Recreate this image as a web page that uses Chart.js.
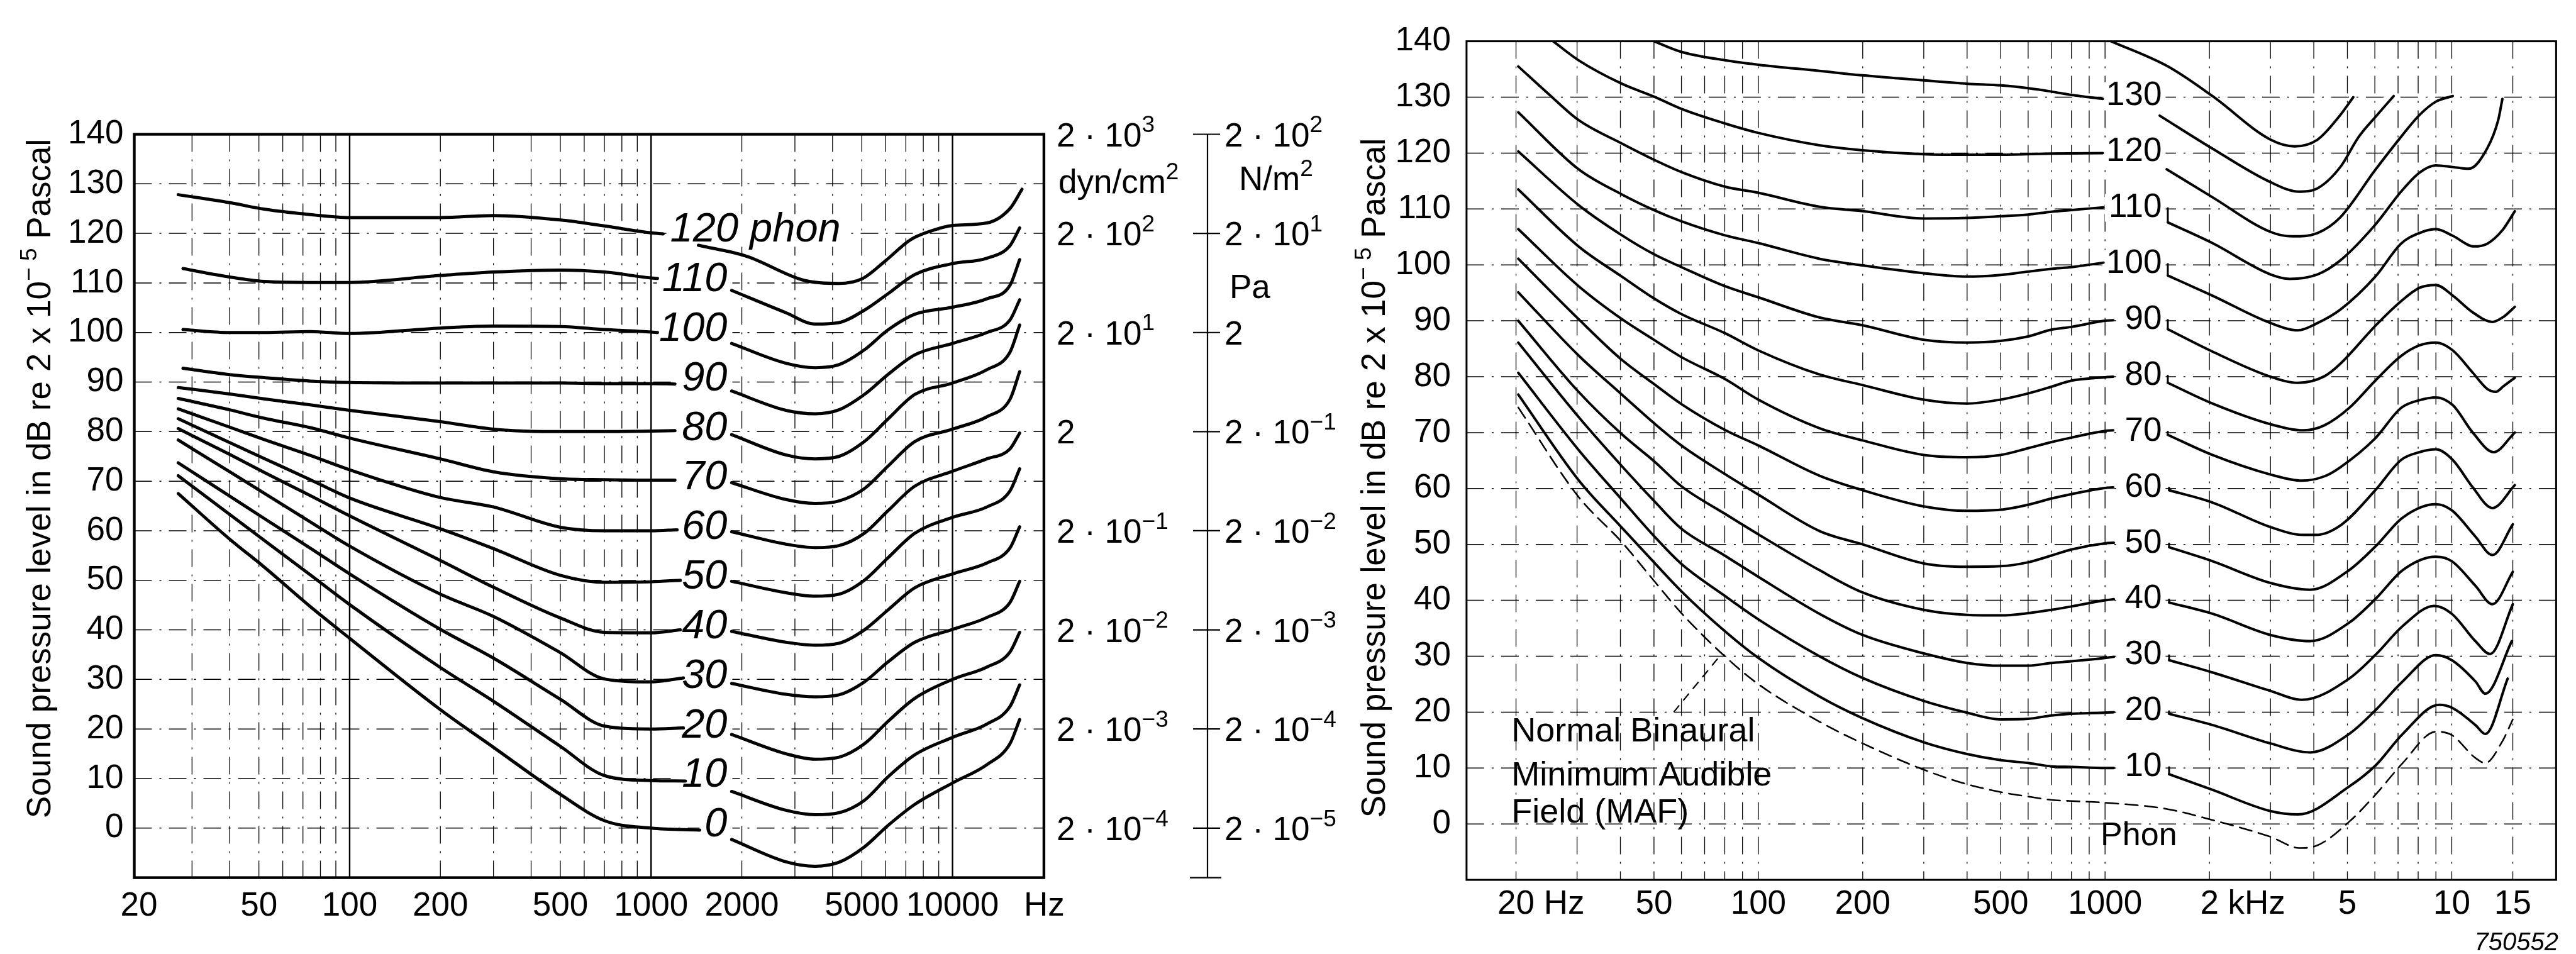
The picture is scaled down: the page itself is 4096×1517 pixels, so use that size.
<!DOCTYPE html>
<html>
<head>
<meta charset="utf-8">
<title>Equal loudness contours</title>
<script src="https://cdn.jsdelivr.net/npm/chart.js@4.4.1/dist/chart.umd.min.js"></script>
<style>
  html, body { margin: 0; padding: 0; background: #ffffff; }
  body { position: relative; width: 4096px; height: 1517px; overflow: hidden; }
  canvas { position: absolute; top: 0; }
  #leftChart { left: 0; }
  #rightChart { left: 2140px; }
</style>
</head>
<body>
<canvas id="leftChart" width="2200" height="1517"></canvas>
<canvas id="rightChart" width="1956" height="1517"></canvas>
<script>
const FONT = '"Liberation Sans", "DejaVu Sans", Arial, sans-serif';
Chart.defaults.font.family = FONT;
Chart.defaults.color = '#000';

// ---------------- data ----------------
const Y_TICKS = [0, 10, 20, 30, 40, 50, 60, 70, 80, 90, 100, 110, 120, 130, 140];
const H_GRID = [0, 10, 20, 30, 40, 50, 60, 70, 80, 90, 100, 110, 120, 130];

// left panel (0 ... 120 phon)
const LEFT_PHON = [0, 10, 20, 30, 40, 50, 60, 70, 80, 90, 100, 110, 120];
const LEFT_X_TICKS = [20, 50, 100, 200, 500, 1000, 2000, 5000, 10000];
const LEFT_X_LABELS = ['20', '50', '100', '200', '500', '1000', '2000', '5000', '10000'];
const LEFT_VGRID = [30, 40, 50, 60, 70, 80, 90, 100, 200, 300, 400, 500, 600, 700, 800, 900,
  1000, 2000, 3000, 4000, 5000, 6000, 7000, 8000, 9000, 10000];
const LEFT_VSOLID = [100, 1000, 10000];

// part below the label (Hz, dB)
const LEFT_LOW = [
  [[27,67.5],[40,58.3],[52,52.7],[74,44.7],[100,38.3],[200,23.9],[300,16.3],[500,6.8],[700,1.5],[1000,0.0],[1450,-0.4]],
  [[27,71.1],[40,63.3],[52,58.1],[74,51.1],[100,45.1],[200,32.4],[300,25.6],[500,16.5],[700,10.6],[1000,9.6],[1300,9.5]],
  [[27,73.7],[40,67.0],[52,62.5],[74,56.5],[100,51.3],[200,40.1],[300,34.3],[500,26.0],[700,20.6],[1000,20.0],[1280,20.2]],
  [[27,78.3],[40,71.9],[52,67.6],[74,61.8],[100,56.9],[200,47.2],[300,42.7],[500,35.4],[700,30.1],[1000,29.5],[1280,30.3]],
  [[27,80.6],[40,75.4],[52,71.8],[74,67.1],[100,63.0],[200,54.0],[300,48.6],[500,42.4],[700,39.5],[1000,39.4],[1250,40.0]],
  [[27,82.6],[40,77.8],[52,74.6],[74,70.3],[100,66.6],[200,60.4],[300,56.4],[500,51.0],[700,49.6],[1000,49.7],[1250,50.0]],
  [[27,84.6],[40,80.9],[52,78.4],[74,75.2],[100,72.3],[200,66.7],[300,64.8],[500,60.7],[700,60.0],[1000,60.0],[1220,60.2]],
  [[27,86.7],[40,84.4],[52,82.7],[74,80.8],[100,78.7],[200,74.5],[300,71.9],[500,70.5],[700,70.3],[1000,70.2],[1200,70.2]],
  [[27,88.9],[40,87.6],[52,86.6],[74,85.4],[100,84.3],[200,82.0],[300,80.5],[500,80.0],[700,80.0],[1000,80.1],[1200,80.2]],
  [[28,92.8],[40,91.5],[52,90.9],[74,90.2],[100,89.9],[200,89.8],[300,89.8],[500,89.8],[700,89.7],[1000,89.7],[1200,89.6]],
  [[28,100.6],[40,100.0],[52,100.0],[74,100.2],[100,99.8],[200,100.9],[300,101.3],[500,101.2],[700,100.6],[1000,100.1],[1050,100.0]],
  [[28,112.9],[40,111.2],[52,110.3],[74,110.1],[100,110.1],[200,111.5],[300,112.2],[500,112.6],[700,112.2],[1000,111.0],[1050,110.9]],
  [[27,127.8],[40,126.2],[52,124.9],[74,123.8],[100,123.2],[200,123.2],[300,123.6],[500,122.7],[700,121.5],[1000,120.1],[1097,119.9]]
];
// part right of the label
const LEFT_HIGH = [
  [[1850,-2.3],[2800,-6.8],[3500,-7.7],[4200,-6.9],[5100,-3.8],[6100,0.5],[7500,4.8],[10000,9.1],[13000,12.8],[15500,17.0],[16700,21.9]],
  [[1850,7.4],[2800,3.6],[3500,2.7],[4200,3.1],[5100,5.6],[6100,10.3],[7500,14.8],[10000,18.3],[13000,21.0],[15500,24.5],[16700,28.9]],
  [[1850,18.9],[2800,15.0],[3500,13.9],[4200,14.3],[5100,17.0],[6100,21.5],[7500,26.2],[10000,30.0],[13000,32.5],[15500,35.5],[16700,39.5]],
  [[1850,29.2],[2800,27.0],[3500,26.5],[4200,26.9],[5100,29.5],[6100,33.5],[7500,37.5],[10000,40.1],[13000,42.5],[15500,45.5],[16700,49.8]],
  [[1850,39.7],[2800,37.5],[3500,36.9],[4200,37.3],[5100,40.0],[6100,44.0],[7500,48.5],[10000,51.3],[13000,53.5],[15500,56.5],[16700,60.8]],
  [[1850,49.8],[2800,47.5],[3500,46.8],[4200,47.2],[5100,50.0],[6100,54.5],[7500,59.5],[10000,62.7],[13000,64.8],[15500,68.0],[16700,72.5]],
  [[1850,59.8],[2800,57.3],[3500,56.6],[4200,57.0],[5100,59.5],[6100,64.0],[7500,69.0],[10000,72.0],[13000,74.5],[15500,76.5],[16700,79.7]],
  [[1850,69.7],[2800,66.3],[3500,65.5],[4200,66.0],[5100,68.5],[6100,73.0],[7500,78.0],[10000,80.5],[13000,83.0],[15500,86.5],[16700,92.1]],
  [[1850,79.4],[2800,75.3],[3500,74.5],[4200,75.0],[5100,78.0],[6100,82.5],[7500,87.5],[10000,89.8],[13000,92.5],[15500,96.0],[16700,101.5]],
  [[1850,88.2],[2800,84.3],[3500,83.6],[4200,84.4],[5100,87.5],[6100,91.5],[7500,95.5],[10000,97.8],[13000,100.0],[15500,102.5],[16700,106.6]],
  [[1850,97.8],[2800,93.8],[3500,92.9],[4200,93.5],[5100,96.5],[6100,100.5],[7500,103.7],[10000,105.1],[13000,106.8],[15500,109.5],[16700,114.7]],
  [[1850,108.5],[2800,104.0],[3500,101.7],[4200,102.0],[5100,104.5],[6100,107.8],[7500,111.7],[10000,113.9],[13000,115.0],[15500,117.5],[16700,121.1]],
  [[1435,117.6],[2070,115.4],[3230,110.5],[4200,109.9],[5000,110.8],[6000,114.5],[7250,118.7],[8500,120.5],[10000,121.6],[13000,122.1],[15500,125.0],[17000,128.9]]
];

// pressure scales between the panels
const PA_LEVELS = [140, 120, 100, 80, 60, 40, 20, 0];
const DYN_EXP = ['3', '2', '1', '', '\u22121', '\u22122', '\u22123', '\u22124'];
const NM_EXP = ['2', '1', '', '\u22121', '\u22122', '\u22123', '\u22124', '\u22125'];

// right panel (10 ... 130 phon + MAF)
const RIGHT_PHON = [10, 20, 30, 40, 50, 60, 70, 80, 90, 100, 110, 120, 130];
const RIGHT_X_TICKS = [20, 50, 100, 200, 500, 1000, 2000, 5000, 10000, 15000];
const RIGHT_X_LABELS = ['20', '50', '100', '200', '500', '1000', '2', '5', '10', '15'];
const RIGHT_VGRID = [20, 30, 40, 50, 60, 70, 80, 90, 100, 200, 300, 400, 500, 600, 700, 800, 900,
  1000, 2000, 3000, 4000, 5000, 6000, 7000, 8000, 9000, 10000, 15000];

const RIGHT_LOW = [
  [[20.3,76.8],[30.3,61.5],[40.4,53.0],[50,46.8],[60,41.6],[80,34.5],[100,29.7],[150,22.8],[200,18.9],[300,14.6],[400,12.5],[500,11.4],[600,10.9],[700,10.3],[800,10.2],[1000,10.0],[1060,10.0]],
  [[20.3,80.7],[30.3,66.9],[40.4,58.0],[50,51.5],[60,46.5],[80,40.8],[100,36.6],[150,30.0],[200,26.1],[300,22.0],[400,19.9],[500,18.7],[600,18.8],[700,19.4],[800,19.7],[1000,19.9],[1060,20.0]],
  [[20.3,86.1],[30.3,72.8],[40.4,64.0],[50,57.8],[60,52.8],[80,48.0],[100,44.2],[150,37.6],[200,33.8],[300,30.5],[400,28.8],[500,28.3],[600,28.3],[700,28.8],[800,29.1],[1000,29.7],[1060,29.9]],
  [[20.3,90.0],[30.3,77.3],[40.4,69.7],[50,64.9],[60,60.4],[80,55.5],[100,51.8],[150,45.4],[200,41.4],[300,38.3],[400,37.4],[500,37.3],[600,37.7],[700,38.3],[800,38.9],[1000,40.0],[1060,40.2]],
  [[20.3,95.1],[30.3,83.8],[40.4,76.8],[50,71.7],[60,67.7],[80,62.6],[100,58.9],[150,52.4],[200,50.0],[300,46.6],[400,46.0],[500,46.1],[600,46.8],[700,48.0],[800,49.1],[1000,50.2],[1060,50.3]],
  [[20.3,101.1],[30.3,90.3],[40.4,83.0],[50,78.7],[60,75.1],[80,70.5],[100,67.7],[150,62.3],[200,59.7],[300,56.8],[400,56.0],[500,56.2],[600,57.1],[700,58.2],[800,59.0],[1000,60.1],[1056,60.2]],
  [[20.3,106.4],[30.3,96.2],[40.4,90.3],[50,86.6],[60,83.5],[80,79.6],[100,75.9],[150,70.8],[200,68.6],[300,66.0],[400,65.6],[500,66.0],[600,67.2],[700,68.3],[800,69.1],[1000,70.3],[1056,70.4]],
  [[20.3,113.5],[30.3,103.3],[40.4,97.9],[50,94.0],[60,91.2],[80,87.8],[100,84.7],[150,80.4],[200,78.5],[300,75.9],[400,75.2],[500,75.9],[600,77.0],[700,78.2],[800,79.3],[1000,79.9],[1056,80.0]],
  [[20.3,120.3],[30.3,110.7],[40.4,105.3],[50,101.9],[60,99.6],[80,96.2],[100,94.2],[150,90.6],[200,89.2],[300,86.6],[400,86.1],[500,86.4],[600,87.2],[700,88.4],[800,88.9],[1000,90.0],[1056,90.1]],
  [[20.3,127.3],[30.3,117.1],[40.4,112.6],[50,109.8],[60,107.8],[80,105.3],[100,103.9],[150,101.1],[200,99.9],[300,98.5],[400,97.9],[500,98.2],[600,98.8],[700,99.3],[800,99.6],[990,100.4]],
  [[20.3,135.5],[25,130.4],[30.3,125.9],[40.4,121.7],[50,118.8],[60,116.6],[80,114.0],[100,112.9],[150,110.4],[200,109.6],[300,108.3],[400,108.4],[500,108.7],[600,109.0],[700,109.5],[800,109.8],[990,110.3]],
  [[25.6,140],[30.3,136.6],[40.4,132.4],[50,130.1],[60,127.9],[80,125.3],[100,123.6],[150,121.4],[200,120.5],[300,119.8],[400,119.7],[500,119.7],[700,119.9],[985,120.0]],
  [[50,140],[60,138.1],[80,136.6],[100,135.8],[150,134.7],[200,133.9],[300,133.0],[400,132.4],[500,132.1],[600,131.6],[700,131.0],[800,130.4],[985,129.7]]
];
const RIGHT_HIGH = [
  [[1530,8.9],[2040,6.1],[3000,2.3],[3600,1.7],[5060,6.7],[6060,10.6],[7220,16.1],[9200,21.3],[10000,20.8],[11700,17.7],[12500,16.1],[14500,26.0]],
  [[1530,19.7],[2040,17.7],[3000,14.4],[3900,12.8],[5060,16.1],[6060,20.5],[7220,25.5],[9000,30.2],[10000,29.3],[11700,25.5],[12500,23.3],[14900,32.7]],
  [[1530,29.3],[2040,27.1],[3000,23.8],[3700,22.2],[5060,26.0],[6060,30.4],[7220,35.4],[8900,39.0],[10000,37.6],[11700,32.7],[12900,30.4],[15000,39.3]],
  [[1530,39.6],[2040,37.6],[3000,33.8],[3900,32.7],[5060,36.0],[6060,40.4],[7220,45.4],[9000,47.8],[10000,47.0],[11700,42.6],[13100,39.3],[15000,45.1]],
  [[1530,49.5],[2040,47.0],[3000,43.1],[3900,41.9],[5060,45.4],[6060,49.8],[7220,54.8],[9000,57.2],[10000,56.1],[11700,51.4],[13100,48.1],[15000,53.6]],
  [[1530,59.7],[2040,57.5],[3000,53.1],[3740,51.7],[4060,51.7],[4800,53.5],[6020,59.7],[7140,65.1],[8070,66.5],[9000,67.0],[10070,65.1],[11500,60.2],[13100,56.5],[15200,60.6]],
  [[1517,69.6],[2040,66.0],[3000,62.5],[3700,61.4],[4300,62.2],[4770,63.8],[6020,69.0],[7140,74.4],[8070,75.8],[9000,76.3],[10070,74.9],[11500,70.0],[13200,66.5],[15200,70.0]],
  [[1517,78.9],[2040,75.2],[3000,71.5],[3740,70.4],[4290,71.3],[5060,74.4],[6020,79.3],[7140,83.7],[8070,85.6],[9000,86.1],[10070,84.7],[11500,80.7],[12670,77.8],[13400,77.3],[14100,78.3],[15200,79.8]],
  [[1517,88.5],[2040,84.5],[3000,80.0],[3600,78.9],[4300,80.1],[4770,82.3],[6020,89.1],[7140,93.5],[8070,95.9],[9000,96.4],[10070,94.5],[11500,91.5],[13100,89.8],[14100,90.7],[15200,92.5]],
  [[1517,98.1],[2040,94.5],[3000,89.6],[3600,88.3],[4100,89.6],[4770,92.0],[6020,97.9],[7140,103.8],[8070,105.7],[9000,106.4],[10070,105.2],[11600,103.3],[12670,103.8],[14000,106.2],[15200,109.6]],
  [[1517,107.6],[2040,103.9],[3000,98.3],[3410,97.5],[4100,98.3],[4770,100.8],[6020,107.2],[7140,113.1],[8070,116.5],[9000,117.8],[10070,117.5],[11200,117.2],[12670,120.9],[13600,125.8],[14000,129.7]],
  [[1506,117.1],[2040,112.1],[3000,105.9],[3470,105.1],[4100,105.7],[4770,108.5],[6020,117.0],[7140,122.9],[8070,126.8],[9000,129.2],[10070,130.2]],
  [[1437,126.7],[2040,120.8],[3000,114.8],[3620,113.1],[4100,113.7],[4770,117.5],[5390,122.9],[6090,126.8],[6800,130.2]]
];
// unlabelled top branch (enters from the top of the frame)
const RIGHT_TOP = [[1041,140],[1517,135.5],[2040,130.2],[3000,122.4],[3520,121.2],[4100,122.4],[4770,126.8],[5200,130.0]];
// Normal binaural minimum audible field (dashed)
const MAF = [[20.3,74.5],[30.3,58.5],[40.4,50.4],[50,43.5],[60,37.7],[80,30.0],[100,25.0],[150,18.3],[200,14.4],[300,9.7],
  [400,7.1],[500,5.7],[600,4.9],[700,4.3],[800,4.1],[1000,3.8],[1500,2.7],[2040,0.7],[3000,-2.3],[3640,-4.3],[4030,-4.0],
  [5060,0.4],[6060,5.4],[7220,10.9],[9000,16.5],[10000,15.9],[11700,11.8],[12500,10.9],[14000,14.8],[15000,18.7]];
const MAF_LEADER = [[57,20.0],[78.5,30.5]];

// ---------------- helpers ----------------
const DASHDOT = [28, 12, 3, 12];
const pts = arr => arr.map(([f, db]) => ({ x: f, y: db }));

function curve(arr, width, dash) {
  return {
    data: pts(arr), borderColor: '#000', borderWidth: width, borderDash: dash || [],
    pointRadius: 0, fill: false, cubicInterpolationMode: 'monotone',
    borderCapStyle: 'round', borderJoinStyle: 'round'
  };
}
function straight(arr, width, dash) {
  return {
    data: pts(arr), borderColor: '#000', borderWidth: width, borderDash: dash || [],
    pointRadius: 0, fill: false, tension: 0, cubicInterpolationMode: 'default'
  };
}

function drawGrid(chart, vLines, solidLines, hLines) {
  const { ctx, chartArea: a, scales } = chart;
  ctx.save();
  ctx.strokeStyle = '#000';
  vLines.forEach(f => {
    const solid = solidLines.includes(f);
    const px = scales.x.getPixelForValue(f);
    ctx.lineWidth = solid ? 2.4 : 1.3;
    ctx.setLineDash(solid ? [] : DASHDOT);
    ctx.beginPath(); ctx.moveTo(px, a.top); ctx.lineTo(px, a.bottom); ctx.stroke();
  });
  hLines.forEach(db => {
    const py = scales.y.getPixelForValue(db);
    ctx.lineWidth = 1.5;
    ctx.setLineDash(DASHDOT);
    ctx.beginPath(); ctx.moveTo(a.left, py); ctx.lineTo(a.right, py); ctx.stroke();
  });
  ctx.restore();
}

// text with superscripts; parts = [[text, isSup], ...], y is the baseline
function drawParts(ctx, parts, x, y, size, align, style) {
  const pre = style ? style + ' ' : '';
  const sup = Math.round(size * 0.7);
  const ws = parts.map(([t, s]) => { ctx.font = pre + (s ? sup : size) + 'px ' + FONT; return ctx.measureText(t).width; });
  const total = ws.reduce((p, c) => p + c, 0);
  let cx = align === 'right' ? x - total : align === 'center' ? x - total / 2 : x;
  ctx.textAlign = 'left';
  ctx.textBaseline = 'alphabetic';
  parts.forEach(([t, s], i) => {
    ctx.font = pre + (s ? sup : size) + 'px ' + FONT;
    ctx.fillText(t, cx, s ? y - size * 0.42 : y);
    cx += ws[i];
  });
  return total;
}

function drawTitle(ctx, bx, cy, size) {
  ctx.save();
  ctx.translate(bx, cy);
  ctx.rotate(-Math.PI / 2);
  ctx.fillStyle = '#000';
  drawParts(ctx, [['Sound pressure level in dB re 2 x 10', false], ['\u2212 5', true], [' Pascal', false]], 0, 0, size, 'center');
  ctx.restore();
}

function whiteBox(ctx, x0, x1, yc, h) {
  ctx.fillRect(x0, yc - h / 2, x1 - x0, h);
}

// ---------------- left panel ----------------
const LEFT_LABEL_SIZE = 65;
const leftDecor = {
  id: 'leftDecor',
  beforeDatasetsDraw(chart) {
    drawGrid(chart, LEFT_VGRID, LEFT_VSOLID, H_GRID);
    const { ctx, scales: { x, y } } = chart;
    ctx.save();
    ctx.fillStyle = '#fff';
    ctx.font = 'italic ' + LEFT_LABEL_SIZE + 'px ' + FONT;
    LEFT_PHON.forEach(p => {
      const yc = y.getPixelForValue(p + 0.6);
      if (p === 120) {
        const x0 = x.getPixelForValue(1157);
        whiteBox(ctx, x0 - 6, x0 + ctx.measureText('120 phon').width + 8, yc, 52);
      } else {
        const xr = x.getPixelForValue(1790);
        whiteBox(ctx, xr - ctx.measureText(String(p)).width - 8, xr + 8, yc, 52);
      }
    });
    ctx.restore();
  },
  afterDatasetsDraw(chart) {
    const { ctx, chartArea: a, scales: { x, y } } = chart;
    ctx.save();
    ctx.fillStyle = '#000';
    ctx.strokeStyle = '#000';
    ctx.setLineDash([]);
    ctx.lineWidth = 4.4;
    ctx.strokeRect(a.left, a.top, a.right - a.left, a.bottom - a.top);

    // phon labels
    ctx.font = 'italic ' + LEFT_LABEL_SIZE + 'px ' + FONT;
    ctx.textBaseline = 'middle';
    LEFT_PHON.forEach(p => {
      const yc = y.getPixelForValue(p + 0.6);
      if (p === 120) {
        ctx.textAlign = 'left';
        ctx.fillText('120 phon', x.getPixelForValue(1157), yc);
      } else {
        ctx.textAlign = 'right';
        ctx.fillText(String(p), x.getPixelForValue(1790), yc);
      }
    });

    // unit after the last frequency label
    ctx.font = '53px ' + FONT;
    ctx.textAlign = 'left';
    ctx.textBaseline = 'middle';
    ctx.fillText('Hz', 1628, a.bottom + 46);

    drawTitle(ctx, 80, 761, 53);

    // sound pressure columns
    const yTop = y.getPixelForValue(140), yBot = y.getPixelForValue(-10);
    ctx.lineWidth = 2.2;
    ctx.beginPath(); ctx.moveTo(1920, yTop); ctx.lineTo(1920, yBot); ctx.stroke();
    PA_LEVELS.forEach(db => {
      const py = y.getPixelForValue(db);
      ctx.beginPath(); ctx.moveTo(1897, py); ctx.lineTo(1940, py); ctx.stroke();
    });
    ctx.beginPath(); ctx.moveTo(1892, yBot); ctx.lineTo(1942, yBot); ctx.stroke();

    PA_LEVELS.forEach((db, i) => {
      const base = y.getPixelForValue(db) + 19;
      drawParts(ctx, DYN_EXP[i] ? [['2 \u00b7 10', false], [DYN_EXP[i], true]] : [['2', false]], 1680, base, 53, 'left');
      drawParts(ctx, NM_EXP[i] ? [['2 \u00b7 10', false], [NM_EXP[i], true]] : [['2', false]], 1947, base, 53, 'left');
    });
    drawParts(ctx, [['dyn/cm', false], ['2', true]], 1683, y.getPixelForValue(130.5) + 19, 53, 'left');
    drawParts(ctx, [['N/m', false], ['2', true]], 1970, y.getPixelForValue(131.2) + 19, 53, 'left');
    drawParts(ctx, [['Pa', false]], 1955, y.getPixelForValue(109.4) + 19, 53, 'left');
    ctx.restore();
  }
};

const leftDatasets = [
  ...LEFT_LOW.map(c => curve(c, 5.0)),
  ...LEFT_HIGH.map(c => curve(c, 5.0))
];

new Chart(document.getElementById('leftChart'), {
  type: 'line',
  data: { datasets: leftDatasets },
  options: {
    responsive: false,
    maintainAspectRatio: false,
    animation: false,
    devicePixelRatio: 1,
    layout: { padding: { left: 103.5, top: 213.5, right: 540.1, bottom: 41.4 } },
    plugins: { legend: { display: false }, tooltip: { enabled: false } },
    scales: {
      x: {
        type: 'logarithmic', min: 19.3, max: 20100,
        grid: { display: false, drawTicks: false }, border: { display: false },
        afterBuildTicks: s => { s.ticks = LEFT_X_TICKS.map(v => ({ value: v })); },
        afterFit: s => { s.height = 80; },
        ticks: { autoSkip: false, maxRotation: 0, padding: 14, font: { size: 53 }, color: '#000',
          callback: (v, i) => LEFT_X_LABELS[i] }
      },
      y: {
        type: 'linear', min: -10, max: 140,
        grid: { display: false, drawTicks: false }, border: { display: false },
        afterBuildTicks: s => { s.ticks = Y_TICKS.map(v => ({ value: v })); },
        afterFit: s => { s.width = 110; },
        ticks: { padding: 17, font: { size: 53 }, color: '#000', callback: v => String(v) }
      }
    }
  },
  plugins: [leftDecor]
});

// ---------------- right panel ----------------
const RIGHT_LABEL_SIZE = 53;
const rightDecor = {
  id: 'rightDecor',
  beforeDatasetsDraw(chart) {
    drawGrid(chart, RIGHT_VGRID, [], H_GRID);
    const { ctx, scales: { x, y } } = chart;
    ctx.save();
    ctx.fillStyle = '#fff';
    ctx.font = RIGHT_LABEL_SIZE + 'px ' + FONT;
    RIGHT_PHON.forEach(p => {
      const xr = x.getPixelForValue(1458);
      whiteBox(ctx, xr - ctx.measureText(String(p)).width - 6, xr + 6, y.getPixelForValue(p + 0.2), 44);
    });
    ctx.restore();
  },
  afterDatasetsDraw(chart) {
    const { ctx, chartArea: a, scales: { x, y } } = chart;
    ctx.save();
    ctx.fillStyle = '#000';
    ctx.strokeStyle = '#000';
    ctx.setLineDash([]);
    ctx.lineWidth = 3;
    ctx.strokeRect(a.left, a.top, a.right - a.left, a.bottom - a.top);

    // phon labels
    ctx.font = RIGHT_LABEL_SIZE + 'px ' + FONT;
    ctx.textAlign = 'right';
    ctx.textBaseline = 'middle';
    RIGHT_PHON.forEach(p => {
      ctx.fillText(String(p), x.getPixelForValue(1458), y.getPixelForValue(p + 0.2));
    });

    // units next to tick labels
    ctx.font = '53px ' + FONT;
    ctx.textAlign = 'left';
    const ly = a.bottom + 39;
    ctx.fillText(' Hz', x.getPixelForValue(20) + ctx.measureText('20').width / 2, ly);
    ctx.fillText(' kHz', x.getPixelForValue(2000) + ctx.measureText('2').width / 2, ly);

    drawTitle(ctx, 62, 760, 53);

    // annotations
    ctx.font = '54px ' + FONT;
    ctx.textAlign = 'left';
    ctx.textBaseline = 'middle';
    const tx = x.getPixelForValue(19.4);
    ctx.fillText('Normal Binaural', tx, y.getPixelForValue(16.4));
    ctx.fillText('Minimum Audible', tx, y.getPixelForValue(8.6));
    ctx.fillText('Field (MAF)', tx, y.getPixelForValue(1.9));
    ctx.font = '52px ' + FONT;
    ctx.fillText('Phon', x.getPixelForValue(971), y.getPixelForValue(-2.2));

    ctx.font = 'italic 40px ' + FONT;
    ctx.textAlign = 'right';
    ctx.fillText('750552', 1928, 1500);
    ctx.restore();
  }
};

// small connectors from label level down to the start of each right branch
const connectors = RIGHT_PHON.slice(0, 11).map((p, i) => {
  const start = RIGHT_HIGH[i][0];
  return straight([[start[0], p + 0.3], [start[0], start[1]]], 3);
});

const rightDatasets = [
  ...RIGHT_LOW.map(c => curve(c, 4.0)),
  ...RIGHT_HIGH.map(c => curve(c, 4.0)),
  curve(RIGHT_TOP, 4.0),
  curve(MAF, 2.6, [20, 11]),
  straight(MAF_LEADER, 2.2, [14, 10]),
  ...connectors
];

new Chart(document.getElementById('rightChart'), {
  type: 'line',
  data: { datasets: rightDatasets },
  options: {
    responsive: false,
    maintainAspectRatio: false,
    animation: false,
    devicePixelRatio: 1,
    layout: { padding: { left: 81.9, top: 65.6, right: 31.6, bottom: 37.9 } },
    plugins: { legend: { display: false }, tooltip: { enabled: false } },
    scales: {
      x: {
        type: 'logarithmic', min: 14.4, max: 20000,
        grid: { display: false, drawTicks: false }, border: { display: false },
        afterBuildTicks: s => { s.ticks = RIGHT_X_TICKS.map(v => ({ value: v })); },
        afterFit: s => { s.height = 80; },
        ticks: { autoSkip: false, maxRotation: 0, padding: 7, font: { size: 53 }, color: '#000',
          callback: (v, i) => RIGHT_X_LABELS[i] }
      },
      y: {
        type: 'linear', min: -10, max: 140,
        grid: { display: false, drawTicks: false }, border: { display: false },
        afterBuildTicks: s => { s.ticks = Y_TICKS.map(v => ({ value: v })); },
        afterFit: s => { s.width = 110; },
        ticks: { padding: 25, font: { size: 53 }, color: '#000', callback: v => String(v) }
      }
    }
  },
  plugins: [rightDecor]
});
</script>
</body>
</html>
